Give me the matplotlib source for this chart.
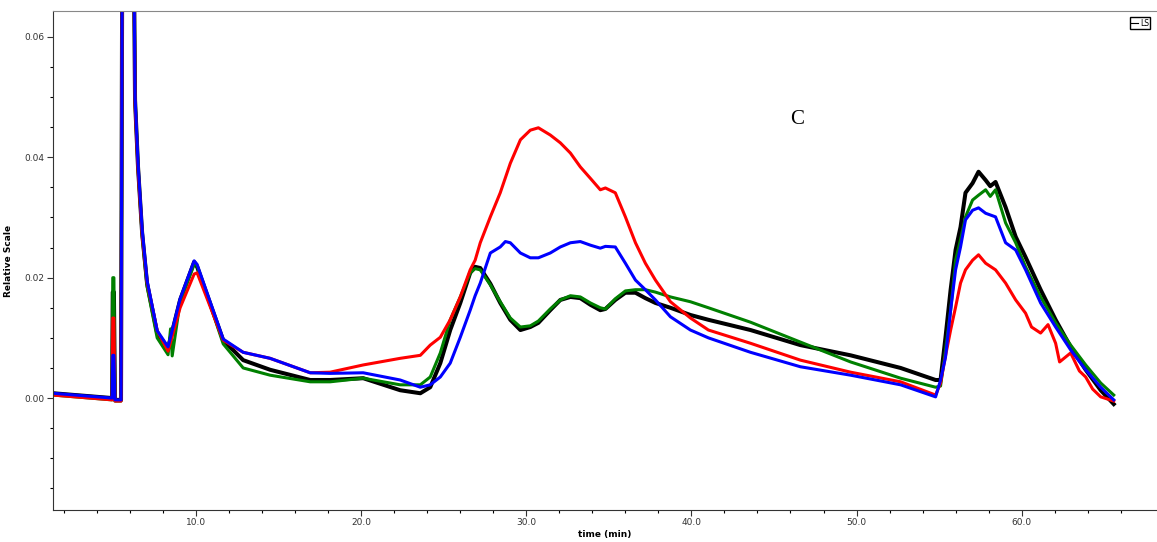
import numpy as np
import matplotlib
matplotlib.use("Agg")
import matplotlib.pyplot as plt
from matplotlib.lines import Line2D

# --- data (time in min, relative scale) ---
t_black = [1.33, 4.91, 4.95, 5.02, 5.08, 5.45, 5.55, 5.65, 6.15, 6.30, 6.48, 6.73, 7.03, 7.64, 8.30,
           9.03, 9.88, 10.06, 11.64, 12.85, 14.48, 16.91, 18.12, 20.12, 22.36, 23.58, 24.18, 24.79,
           25.39, 26.0, 26.6, 26.9, 27.21, 27.82, 28.42, 29.03, 29.64, 30.24, 30.73, 31.45, 32.06,
           32.67, 33.27, 33.88, 34.48, 34.79, 35.39, 36.0, 36.61, 37.21, 37.82, 38.73, 39.94, 41.03,
           43.58, 46.6, 49.64, 52.67, 54.79, 55.09, 55.39, 55.7, 56.0, 56.3, 56.6, 57.03, 57.39,
           57.82, 58.1, 58.42, 59.03, 59.64, 60.24, 61.15, 62.06, 62.97, 63.88, 64.79, 65.58]
y_black = [0.0008, 0.0, 0.0176, 0.0176, -0.0003, -0.0003, 0.10, 0.10, 0.10, 0.0495, 0.0384, 0.0274,
           0.0190, 0.0108, 0.0083, 0.0163, 0.0226, 0.0218, 0.0096, 0.0063, 0.0047, 0.0030, 0.0030,
           0.0033, 0.0013, 0.0008, 0.0018, 0.0058, 0.0113, 0.0158, 0.0208, 0.0218, 0.0216, 0.0190,
           0.0158, 0.0130, 0.0113, 0.0118, 0.0125, 0.0146, 0.0163, 0.0168, 0.0166, 0.0155, 0.0146,
           0.0148, 0.0163, 0.0175, 0.0175, 0.0166, 0.0158, 0.0150, 0.0138, 0.0130, 0.0113, 0.0088,
           0.0071, 0.0050, 0.0030, 0.0030, 0.0101, 0.0180, 0.0246, 0.0284, 0.0341, 0.0357, 0.0376,
           0.0362, 0.0352, 0.0359, 0.0317, 0.0268, 0.0234, 0.0180, 0.0130, 0.0085, 0.0047, 0.0013, -0.0010]

t_green = [1.33, 4.91, 4.95, 5.02, 5.08, 5.45, 5.55, 5.65, 6.15, 6.30, 6.48, 6.73, 7.03, 7.64, 8.30,
           8.45, 8.55, 9.03, 9.88, 10.06, 11.64, 12.85, 14.48, 16.91, 18.12, 20.12, 22.36, 23.58,
           24.18, 24.79, 25.39, 26.0, 26.6, 26.9, 27.21, 27.82, 28.42, 29.03, 29.64, 30.24, 30.73,
           31.45, 32.06, 32.67, 33.27, 33.88, 34.48, 34.79, 35.39, 36.0, 36.61, 37.21, 37.82, 38.73,
           39.94, 41.03, 43.58, 46.6, 49.64, 52.67, 54.79, 55.09, 55.39, 55.7, 56.0, 56.3, 56.6,
           57.03, 57.39, 57.82, 58.1, 58.42, 59.03, 59.64, 60.24, 61.15, 62.06, 62.97, 63.88, 64.79, 65.58]
y_green = [0.0005, -0.0003, 0.0200, 0.0200, -0.0005, -0.0005, 0.10, 0.10, 0.10, 0.0495, 0.0384, 0.0270,
           0.0185, 0.0100, 0.0072, 0.0115, 0.0070, 0.0160, 0.0222, 0.0220, 0.0090, 0.0050, 0.0038,
           0.0027, 0.0027, 0.0033, 0.0022, 0.0022, 0.0035, 0.0075, 0.0130, 0.0168, 0.0208, 0.0215,
           0.0213, 0.0188, 0.0160, 0.0133, 0.0118, 0.0120, 0.0128, 0.0148, 0.0163, 0.0170, 0.0168,
           0.0158, 0.0150, 0.0148, 0.0165, 0.0178, 0.0180, 0.0180, 0.0176, 0.0168, 0.0160, 0.0150,
           0.0126, 0.0093, 0.0060, 0.0033, 0.0018, 0.0020, 0.0080, 0.0146, 0.0229, 0.0263, 0.0301,
           0.0329, 0.0337, 0.0346, 0.0335, 0.0346, 0.0291, 0.0258, 0.0218, 0.0168, 0.0125, 0.0088,
           0.0055, 0.0025, 0.0005]

t_red = [1.33, 4.91, 4.95, 5.02, 5.08, 5.45, 5.55, 5.65, 6.15, 6.30, 6.48, 6.73, 7.03, 7.64, 8.30,
         9.03, 9.88, 10.06, 11.64, 12.85, 14.48, 16.91, 18.12, 20.12, 22.36, 23.58, 24.18, 24.79,
         25.39, 26.0, 26.6, 26.9, 27.21, 27.82, 28.42, 29.03, 29.64, 30.24, 30.73, 31.45, 32.06,
         32.67, 33.27, 33.88, 34.48, 34.79, 35.39, 36.0, 36.61, 37.21, 37.82, 38.73, 39.94, 41.03,
         43.58, 46.6, 49.64, 52.67, 54.79, 55.09, 55.39, 55.7, 56.0, 56.3, 56.6, 57.03, 57.39,
         57.82, 58.42, 59.03, 59.64, 60.24, 60.6, 61.15, 61.6, 62.06, 62.3, 62.97, 63.5, 63.88,
         64.3, 64.79, 65.58]
y_red = [0.0005, -0.0003, 0.0133, 0.0133, -0.0005, -0.0005, 0.10, 0.10, 0.10, 0.0490, 0.0380, 0.0272,
         0.0192, 0.0112, 0.0078, 0.0150, 0.0206, 0.0208, 0.0096, 0.0076, 0.0066, 0.0042, 0.0043,
         0.0055, 0.0066, 0.0071, 0.0088, 0.0101, 0.0130, 0.0168, 0.0213, 0.0229, 0.0258, 0.0301,
         0.0341, 0.0390, 0.0429, 0.0445, 0.0449, 0.0437, 0.0424, 0.0407, 0.0384, 0.0365, 0.0346,
         0.0349, 0.0341, 0.0301, 0.0258, 0.0224, 0.0196, 0.0160, 0.0133, 0.0113, 0.0091, 0.0063,
         0.0043, 0.0027, 0.0005, 0.0025, 0.0070, 0.0113, 0.0151, 0.0191, 0.0213, 0.0229, 0.0238,
         0.0224, 0.0213, 0.0191, 0.0163, 0.0141, 0.0118, 0.0108, 0.0122, 0.0091, 0.0060, 0.0075,
         0.0045, 0.0035, 0.0015, 0.0002, -0.0005]

t_blue = [1.33, 4.91, 4.95, 5.02, 5.08, 5.45, 5.55, 5.65, 6.15, 6.30, 6.48, 6.73, 7.03, 7.64, 8.30,
          9.03, 9.88, 10.06, 11.64, 12.85, 14.48, 16.91, 18.12, 20.12, 22.36, 23.58, 24.18, 24.79,
          25.39, 26.0, 26.6, 26.9, 27.21, 27.82, 28.42, 28.73, 29.03, 29.64, 30.24, 30.73, 31.45,
          32.06, 32.67, 33.27, 33.88, 34.48, 34.79, 35.39, 36.0, 36.61, 37.21, 37.82, 38.73, 39.94,
          41.03, 43.58, 46.6, 49.64, 52.67, 54.79, 55.09, 55.39, 55.7, 56.0, 56.3, 56.6, 57.03,
          57.39, 57.82, 58.42, 59.03, 59.64, 60.24, 61.15, 62.06, 62.97, 63.88, 64.79, 65.58]
y_blue = [0.0008, 0.0, 0.0071, 0.0071, -0.0003, -0.0003, 0.10, 0.10, 0.10, 0.0500, 0.0390, 0.0280,
          0.0195, 0.0112, 0.0085, 0.0165, 0.0228, 0.0222, 0.0098, 0.0076, 0.0066, 0.0042, 0.0041,
          0.0042, 0.0030, 0.0018, 0.0022, 0.0035, 0.0058, 0.0101, 0.0146, 0.0170, 0.0191, 0.0241,
          0.0251, 0.0260, 0.0258, 0.0241, 0.0233, 0.0233, 0.0241, 0.0251, 0.0258, 0.0260, 0.0254,
          0.0249, 0.0252, 0.0251, 0.0224, 0.0196, 0.0180, 0.0163, 0.0135, 0.0113, 0.0100, 0.0076,
          0.0052, 0.0038, 0.0022, 0.0002, 0.0030, 0.0068, 0.0146, 0.0213, 0.0251, 0.0296, 0.0312,
          0.0316, 0.0307, 0.0301, 0.0258, 0.0246, 0.0213, 0.0158, 0.0118, 0.0080, 0.0047, 0.0018, -0.0003]

x_ticks = [10, 20, 30, 40, 50, 60]
y_ticks = [0.00, 0.02, 0.04, 0.06]

# --- figure ---
fig = plt.figure(figsize=(11.57, 5.42), dpi=100)
ax = fig.add_axes([0.0458, 0.059, 0.9542, 0.9207])

ax.plot(t_black, y_black, color='black', lw=2.9, solid_joinstyle='round')
ax.plot(t_green, y_green, color='#008000', lw=2.2)
ax.plot(t_red, y_red, color='#ff0000', lw=2.2)
ax.plot(t_blue, y_blue, color='#0000ff', lw=2.2)

ax.set_xlim(1.33, 68.2)
ax.set_ylim(-0.0186, 0.0643)

ax.set_xticks(x_ticks)
ax.set_xticklabels([f'{v:.1f}' for v in x_ticks])
ax.set_xticks(np.arange(2, 68, 2), minor=True)
ax.set_yticks(y_ticks)
ax.set_yticklabels([f'{v:.2f}' for v in y_ticks])
ax.set_yticks(np.arange(-0.015, 0.064, 0.005), minor=True)

ax.tick_params(which='major', length=4, width=0.8, labelsize=6.5, colors='#333333', pad=2)
ax.tick_params(which='minor', length=2, width=0.8)

for side in ['left', 'bottom']:
    ax.spines[side].set_color('#333333')
ax.spines['top'].set_color('#888888')
ax.spines['right'].set_visible(False)

ax.set_xlabel('time (min)', fontsize=6.5, fontweight='bold', labelpad=2)
ax.set_ylabel('Relative Scale', fontsize=6.5, fontweight='bold', labelpad=8)

ax.text(46.4, 0.0462, 'C', fontsize=15, family='Liberation Serif', ha='center', va='center')

proxy = Line2D([], [], color='black', lw=0.8)
ax.legend([proxy], ['LS'], loc='upper right', fontsize=5.5, handlelength=0.8, handletextpad=0.3,
          borderpad=0.2, fancybox=False, edgecolor='black', framealpha=1,
          bbox_to_anchor=(0.9975, 0.995))

fig.savefig('out.png', dpi=100)
